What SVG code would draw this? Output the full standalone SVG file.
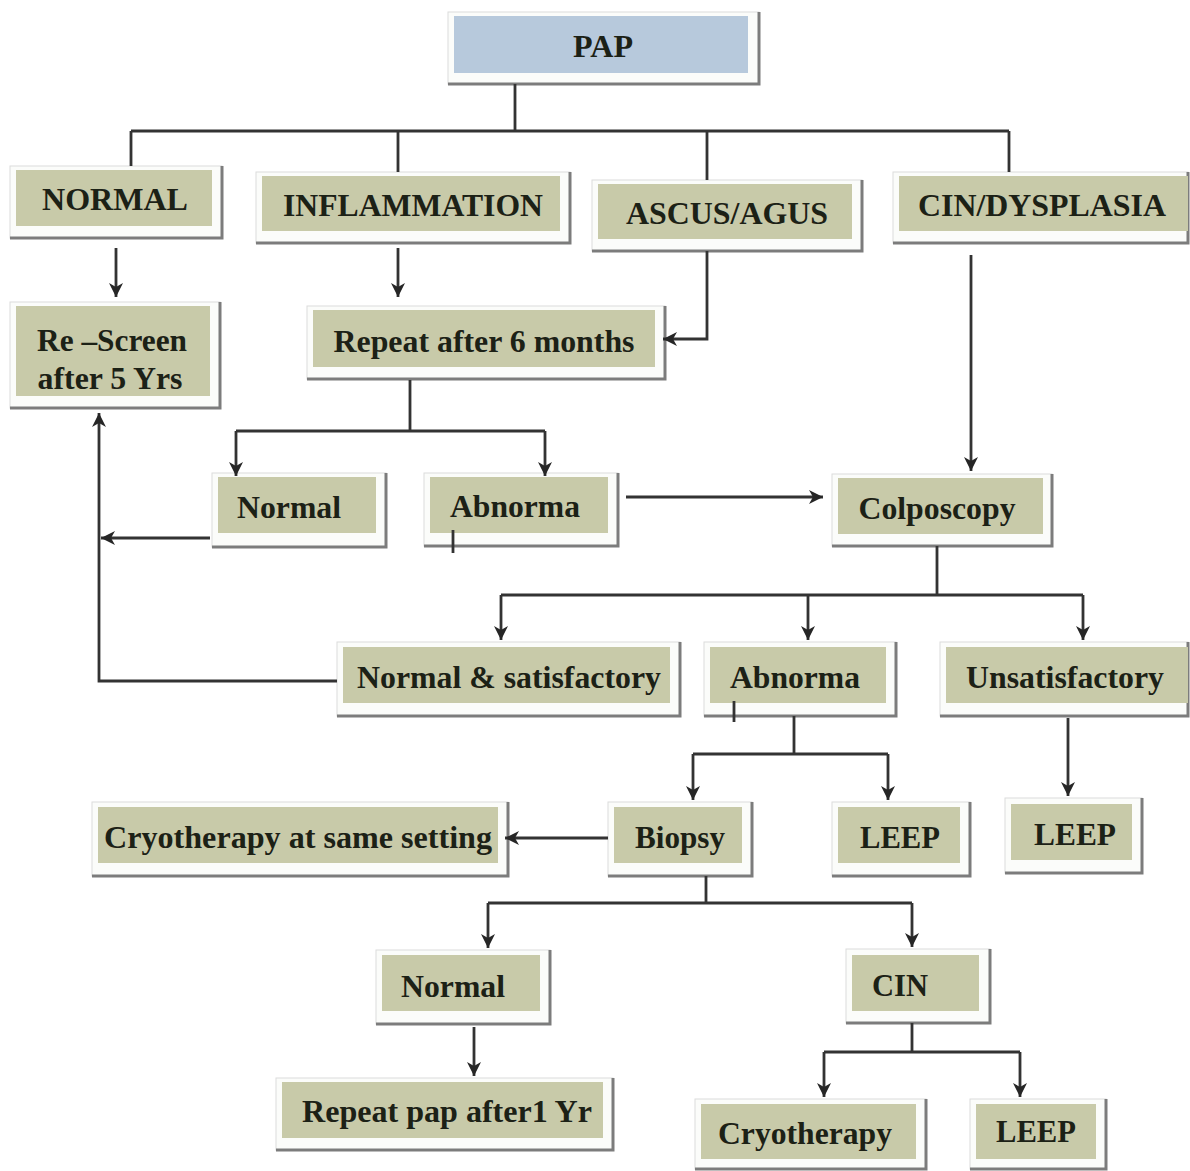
<svg xmlns="http://www.w3.org/2000/svg" width="1190" height="1171" viewBox="0 0 1190 1171">
  <style>
    .frame { fill: #fbfcfa; stroke: #dcdcdc; stroke-width: 1; }
    .edge { fill: none; stroke: #7c7c7c; stroke-width: 3; }
    .fill { fill: #c8caa9; }
    .fill-top { fill: #b7c9dc; }
    .label { font-family: "Liberation Serif", "Times New Roman", serif; font-weight: bold; font-size: 32px; fill: #1c2116; text-anchor: middle; }
    .wire { fill: none; stroke: #333333; stroke-width: 2.8; }
    .arrow { marker-end: url(#head); }
  </style>
  <defs>
    <marker id="head" markerUnits="userSpaceOnUse" markerWidth="16" markerHeight="16" refX="14" refY="7" orient="auto">
      <path d="M0,0 L14,7 L0,14 L4,7 Z" fill="#262626"/>
    </marker>
  </defs>
  <rect width="1190" height="1171" fill="#ffffff"/>

  <!-- nodes: white frame, shadowed right/bottom edge, tinted panel, label -->
  <g id="pap">
    <rect class="frame" x="448" y="12" width="311" height="72"/>
    <path class="edge" d="M759,12 V84 H448"/>
    <rect class="fill-top" x="454" y="16" width="294" height="57"/>
    <text class="label" x="603" y="57" textLength="60" lengthAdjust="spacingAndGlyphs">PAP</text>
  </g>

  <g id="normal-top">
    <rect class="frame" x="10" y="166" width="212" height="72"/>
    <path class="edge" d="M222,166 V238 H10"/>
    <rect class="fill" x="16" y="170" width="196" height="56"/>
    <text class="label" x="115" y="210" textLength="146" lengthAdjust="spacingAndGlyphs">NORMAL</text>
  </g>

  <g id="inflammation">
    <rect class="frame" x="256" y="172" width="314" height="71"/>
    <path class="edge" d="M570,172 V243 H256"/>
    <rect class="fill" x="262" y="176" width="298" height="55"/>
    <text class="label" x="413" y="216" textLength="260" lengthAdjust="spacingAndGlyphs">INFLAMMATION</text>
  </g>

  <g id="ascus">
    <rect class="frame" x="592" y="180" width="270" height="71"/>
    <path class="edge" d="M862,180 V251 H592"/>
    <rect class="fill" x="598" y="184" width="254" height="55"/>
    <text class="label" x="727" y="224" textLength="202" lengthAdjust="spacingAndGlyphs">ASCUS/AGUS</text>
  </g>

  <g id="cin-dysplasia">
    <rect class="frame" x="893" y="172" width="295" height="71"/>
    <path class="edge" d="M1188,172 V243 H893"/>
    <rect class="fill" x="899" y="176" width="289" height="55"/>
    <text class="label" x="1042" y="216" textLength="248" lengthAdjust="spacingAndGlyphs">CIN/DYSPLASIA</text>
  </g>

  <g id="rescreen">
    <rect class="frame" x="10" y="302" width="210" height="106"/>
    <path class="edge" d="M220,302 V408 H10"/>
    <rect class="fill" x="16" y="306" width="194" height="90"/>
    <text class="label" x="112" y="351" textLength="150" lengthAdjust="spacingAndGlyphs">Re –Screen</text>
    <text class="label" x="110" y="389" textLength="145" lengthAdjust="spacingAndGlyphs">after 5 Yrs</text>
  </g>

  <g id="repeat-6m">
    <rect class="frame" x="307" y="306" width="358" height="73"/>
    <path class="edge" d="M665,306 V379 H307"/>
    <rect class="fill" x="313" y="310" width="342" height="57"/>
    <text class="label" x="484" y="352" textLength="301" lengthAdjust="spacingAndGlyphs">Repeat after 6 months</text>
  </g>

  <g id="normal-pap">
    <rect class="frame" x="212" y="473" width="174" height="74"/>
    <path class="edge" d="M386,473 V547 H212"/>
    <rect class="fill" x="218" y="477" width="158" height="56"/>
    <text class="label" x="289" y="518" textLength="104" lengthAdjust="spacingAndGlyphs">Normal</text>
  </g>

  <g id="abnormal-pap">
    <rect class="frame" x="424" y="473" width="194" height="73"/>
    <path class="edge" d="M618,473 V546 H424"/>
    <rect class="fill" x="430" y="477" width="178" height="56"/>
    <text class="label" x="515" y="517" textLength="130" lengthAdjust="spacingAndGlyphs">Abnorma</text>
  </g>

  <g id="colposcopy">
    <rect class="frame" x="832" y="474" width="220" height="72"/>
    <path class="edge" d="M1052,474 V546 H832"/>
    <rect class="fill" x="838" y="478" width="205" height="56"/>
    <text class="label" x="937" y="519" textLength="157" lengthAdjust="spacingAndGlyphs">Colposcopy</text>
  </g>

  <g id="normal-satisfactory">
    <rect class="frame" x="337" y="642" width="343" height="74"/>
    <path class="edge" d="M680,642 V716 H337"/>
    <rect class="fill" x="343" y="647" width="327" height="56"/>
    <text class="label" x="509" y="688" textLength="304" lengthAdjust="spacingAndGlyphs">Normal &amp; satisfactory</text>
  </g>

  <g id="abnormal-colposcopy">
    <rect class="frame" x="704" y="642" width="192" height="74"/>
    <path class="edge" d="M896,642 V716 H704"/>
    <rect class="fill" x="710" y="647" width="176" height="56"/>
    <text class="label" x="795" y="688" textLength="130" lengthAdjust="spacingAndGlyphs">Abnorma</text>
  </g>

  <g id="unsatisfactory">
    <rect class="frame" x="940" y="642" width="248" height="74"/>
    <path class="edge" d="M1188,642 V716 H940"/>
    <rect class="fill" x="946" y="647" width="242" height="56"/>
    <text class="label" x="1065" y="688" textLength="198" lengthAdjust="spacingAndGlyphs">Unsatisfactory</text>
  </g>

  <g id="cryo-same-setting">
    <rect class="frame" x="92" y="802" width="416" height="74"/>
    <path class="edge" d="M508,802 V876 H92"/>
    <rect class="fill" x="98" y="807" width="400" height="56"/>
    <text class="label" x="298" y="848" textLength="388" lengthAdjust="spacingAndGlyphs">Cryotherapy at same setting</text>
  </g>

  <g id="biopsy">
    <rect class="frame" x="608" y="802" width="144" height="74"/>
    <path class="edge" d="M752,802 V876 H608"/>
    <rect class="fill" x="614" y="807" width="128" height="56"/>
    <text class="label" x="680" y="848" textLength="90" lengthAdjust="spacingAndGlyphs">Biopsy</text>
  </g>

  <g id="leep-abnormal">
    <rect class="frame" x="832" y="802" width="138" height="74"/>
    <path class="edge" d="M970,802 V876 H832"/>
    <rect class="fill" x="838" y="807" width="122" height="56"/>
    <text class="label" x="900" y="848" textLength="80" lengthAdjust="spacingAndGlyphs">LEEP</text>
  </g>

  <g id="leep-unsatisfactory">
    <rect class="frame" x="1005" y="798" width="137" height="75"/>
    <path class="edge" d="M1142,798 V873 H1005"/>
    <rect class="fill" x="1011" y="804" width="121" height="56"/>
    <text class="label" x="1075" y="845" textLength="82" lengthAdjust="spacingAndGlyphs">LEEP</text>
  </g>

  <g id="normal-biopsy">
    <rect class="frame" x="376" y="950" width="174" height="74"/>
    <path class="edge" d="M550,950 V1024 H376"/>
    <rect class="fill" x="382" y="955" width="158" height="56"/>
    <text class="label" x="453" y="997" textLength="104" lengthAdjust="spacingAndGlyphs">Normal</text>
  </g>

  <g id="cin">
    <rect class="frame" x="846" y="949" width="144" height="74"/>
    <path class="edge" d="M990,949 V1023 H846"/>
    <rect class="fill" x="852" y="955" width="127" height="56"/>
    <text class="label" x="900" y="996" textLength="56" lengthAdjust="spacingAndGlyphs">CIN</text>
  </g>

  <g id="repeat-pap-1y">
    <rect class="frame" x="276" y="1078" width="337" height="72"/>
    <path class="edge" d="M613,1078 V1150 H276"/>
    <rect class="fill" x="282" y="1082" width="321" height="56"/>
    <text class="label" x="447" y="1122" textLength="290" lengthAdjust="spacingAndGlyphs">Repeat pap after1 Yr</text>
  </g>

  <g id="cryotherapy">
    <rect class="frame" x="695" y="1099" width="231" height="70"/>
    <path class="edge" d="M926,1099 V1169 H695"/>
    <rect class="fill" x="701" y="1104" width="215" height="55"/>
    <text class="label" x="805" y="1144" textLength="174" lengthAdjust="spacingAndGlyphs">Cryotherapy</text>
  </g>

  <g id="leep-cin">
    <rect class="frame" x="970" y="1099" width="136" height="70"/>
    <path class="edge" d="M1106,1099 V1169 H970"/>
    <rect class="fill" x="976" y="1104" width="120" height="55"/>
    <text class="label" x="1036" y="1142" textLength="80" lengthAdjust="spacingAndGlyphs">LEEP</text>
  </g>

  <!-- connectors, drawn over the node frames -->
  <g id="connectors">
    <!-- PAP to first row -->
    <path class="wire" d="M515,84 V131 M131,131 H1009 M131,131 V166 M398,131 V172 M707,131 V180 M1009,131 V172"/>
    <path class="wire arrow" d="M116,248 V297"/>
    <path class="wire arrow" d="M398,248 V297"/>
    <path class="wire arrow" d="M707,251 V339 H663"/>
    <path class="wire arrow" d="M971,255 V471"/>
    <!-- repeat after 6 months split -->
    <path class="wire" d="M410,380 V431 M236,431 H545"/>
    <path class="wire arrow" d="M236,431 V476"/>
    <path class="wire arrow" d="M545,431 V476"/>
    <path class="wire arrow" d="M626,497 H823"/>
    <path class="wire arrow" d="M210,538 H101"/>
    <path class="wire arrow" d="M337,681 H99 V413"/>
    <path class="wire" d="M453,530 V553"/>
    <!-- colposcopy split -->
    <path class="wire" d="M937,546 V595 M501,595 H1083"/>
    <path class="wire arrow" d="M501,595 V640"/>
    <path class="wire arrow" d="M808,595 V640"/>
    <path class="wire arrow" d="M1083,595 V640"/>
    <path class="wire" d="M734,701 V722"/>
    <!-- abnormal colposcopy split -->
    <path class="wire" d="M794,716 V754 M693,754 H888"/>
    <path class="wire arrow" d="M693,754 V800"/>
    <path class="wire arrow" d="M888,754 V800"/>
    <path class="wire arrow" d="M1068,718 V796"/>
    <path class="wire arrow" d="M608,838 H505"/>
    <!-- biopsy split -->
    <path class="wire" d="M706,876 V903 M488,903 H912"/>
    <path class="wire arrow" d="M488,903 V948"/>
    <path class="wire arrow" d="M912,903 V947"/>
    <path class="wire arrow" d="M474,1027 V1076"/>
    <!-- CIN split -->
    <path class="wire" d="M912,1023 V1052 M824,1052 H1020"/>
    <path class="wire arrow" d="M824,1052 V1097"/>
    <path class="wire arrow" d="M1020,1052 V1097"/>
  </g>
</svg>
